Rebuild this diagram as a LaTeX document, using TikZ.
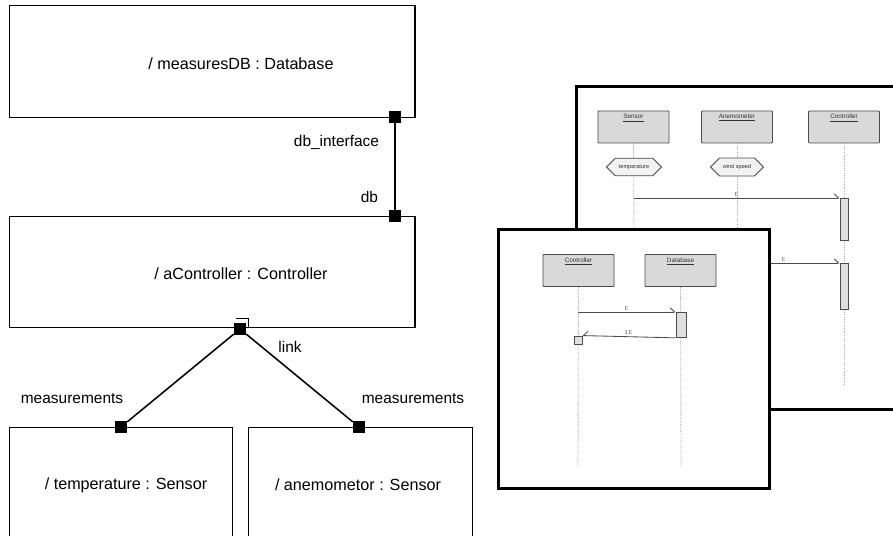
\documentclass[tikz,border=0pt]{standalone}
\usepackage{fontspec}
\setmainfont{Liberation Sans}
\usetikzlibrary{positioning, arrows.meta, shapes.misc}

\begin{document}
\begin{tikzpicture}[
    x=0.025cm,
    y=-0.025cm,
    part/.style={
        draw,
        line width=1pt,
        anchor=north west,
        inner sep=0pt,
    },
    partname/.style={font=\fontsize{11.5}{13}\selectfont},
    portname/.style={font=\fontsize{11}{13}\selectfont},
    port/.style={fill=black, minimum size=0.3cm, inner sep=0pt},
    wire/.style={line width=1.1pt},
    window/.style={
        draw,
        fill=white,
        line width=2.2pt,
        anchor=north west,
        inner sep=0pt,
    },
    head/.style={
        draw=gray!60!black,
        fill=gray!30,
        line width=0.6pt,
        rounded corners=0.6pt,
        minimum width=1.775cm,
        minimum height=0.8cm,
        inner sep=0pt,
    },
    headname/.style={
        font=\fontsize{4.5}{5}\selectfont,
        text=gray!40!black,
        anchor=north,
        inner sep=2.5pt,
    },
    lifeline/.style={draw=gray!70, densely dotted, line width=0.6pt},
    guard/.style={
        chamfered rectangle,
        chamfered rectangle xsep=3pt,
        draw=gray!60!black,
        fill=gray!10,
        line width=0.6pt,
        minimum height=0.35cm,
        inner sep=1pt,
        font=\fontsize{4}{5}\selectfont,
        text=gray!40!black,
    },
    bar/.style={
        draw=gray!60!black,
        fill=gray!25,
        line width=0.6pt,
        anchor=north,
        minimum width=0.2cm,
        inner sep=0pt,
    },
    msg/.style={
        draw=gray!60!black,
        line width=0.6pt,
        -{Straight Barb[harpoon, length=3pt, width=6pt]},
    },
    msgname/.style={
        font=\fontsize{4.5}{5}\selectfont,
        text=gray!40!black,
        above,
        inner sep=1pt,
    },
]

\useasboundingbox (0,0) rectangle (893,536);
\clip (0,0) rectangle (893,536);

% --- Parts ---
\node[part, minimum width=10.125cm, minimum height=2.8cm]   (dbpart)   at (9,5)   {};
\node[part, minimum width=10.125cm, minimum height=2.775cm] (ctrlpart) at (9,216) {};
\node[part, minimum width=5.575cm, minimum height=2.95cm]   (tpart)    at (9,427) {};
\node[part, minimum width=5.6cm, minimum height=2.95cm]     (apart)    at (248,427) {};

\node[partname] (dbname)   at (241,64)  {/ measuresDB : Database};
\node[partname] (ctrlname) at (241,274) {/ aController : Controller};
\node[partname] (tname)    at (126,485) {/ temperature : Sensor};
\node[partname] (aname)    at (358,485) {/ anemometor : Sensor};

% --- Ports ---
\node[port] (dbif)   at (395,117) {};
\node[port] (dbport) at (395,216) {};
\node[port] (lnk)    at (240,329) {};
\node[port] (tport)  at (121,427) {};
\node[port] (aport)  at (359,427) {};

\draw[line width=0.7pt] ([shift={(-10,-4)}]lnk.north east) -- ++(12,0) -- ++(0,9);

% --- Connectors ---
\draw[wire] (dbif) -- (dbport);
\draw[wire] (lnk) -- (tport);
\draw[wire] (lnk) -- (aport);

\node[portname, anchor=east] (dbiflabel) at (384,142) {db\_interface};
\node[portname, anchor=east] (dblabel)   at (383,197) {db};
\node[portname]              (lnklabel)  at (290,347) {link};
\node[portname]              (tlabel)    at (72,399)  {measurements};
\node[portname]              (alabel)    at (413,399) {measurements};

% --- Back window: sensors to controller ---
\node[window, minimum width=8.25cm, minimum height=8.075cm] (backwin) at (575,85) {};

\node[head, label={[headname]north:\underline{Sensor}}]     (bsensor) at (633.5,127) {};
\node[head, label={[headname]north:\underline{Anemometer}}] (banemo)  at (737,127)   {};
\node[head, label={[headname]north:\underline{Controller}}] (bctrl)   at (844,127)   {};

\coordinate (bsensorend) at (634,240);
\coordinate (banemoend)  at (737,240);
\coordinate (bctrlend)   at (844,385);
\draw[lifeline] (bsensor) -- (bsensorend);
\draw[lifeline] (banemo) -- (banemoend);
\draw[lifeline] (bctrl) -- (bctrlend);

\node[guard, minimum width=1.375cm] (btemp) at (634,167) {temperature};
\node[guard, minimum width=1.325cm] (bwind) at (737,167) {wind speed};

\node[bar, minimum height=1.05cm] (bbar1) at (844,198) {};
\node[bar, minimum height=1.15cm] (bbar2) at (844,263) {};

\coordinate (bt1) at (634,198);
\coordinate (bt2) at (700,263);
\draw[msg] (bt1) -- (bbar1.north west) node[msgname, midway] {t:};
\draw[msg] (bt2) -- (bbar2.north west) node[msgname, pos=0.6] {t:};

% --- Front window: controller to database ---
\node[window, minimum width=6.775cm, minimum height=6.475cm] (frontwin) at (497,228) {};

\node[head, label={[headname]north:\underline{Controller}}] (fctrl) at (578.5,270.5) {};
\node[head, label={[headname]north:\underline{Database}}]   (fdb)   at (680.5,270.5) {};

\coordinate (fctrlend) at (578,467);
\coordinate (fdbend)   at (681,467);
\draw[lifeline] (fctrl) -- (fctrlend);
\draw[lifeline] (fdb) -- (fdbend);

\node[bar, minimum width=0.25cm, minimum height=0.625cm] (fbar) at (681,312) {};
\node[draw=gray!60!black, fill=gray!25, line width=0.6pt, minimum size=0.2cm, inner sep=0pt] (fret) at (578,340) {};

\coordinate (ft1) at (578,312);
\draw[msg] (ft1) -- (fbar.north west) node[msgname, midway] {t:};
\draw[msg, -{Straight Barb[harpoon, swap, length=3pt, width=6pt]}] (fbar.south west) -- (fret.north east) node[msgname, midway] {t.t:};

\end{tikzpicture}
\end{document}
